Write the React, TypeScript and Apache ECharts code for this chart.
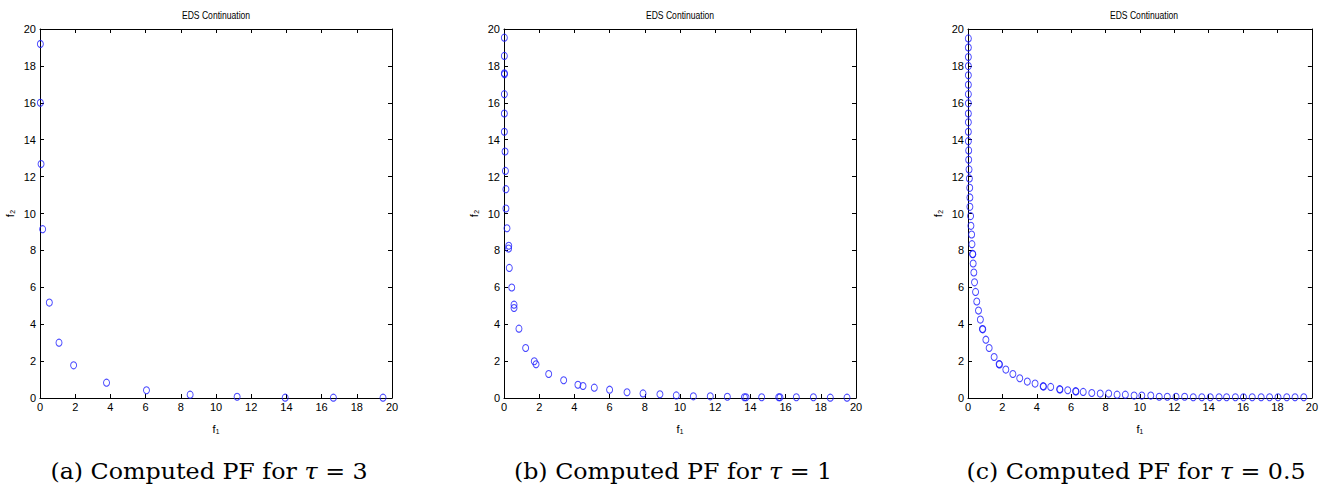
import React, { useEffect, useRef } from "react";
import * as echarts from "echarts";

// ---- data (f1, f2) ----
const tau3X = [0.02, 0.02, 0.06, 0.15, 0.53, 1.08, 1.91, 3.78, 6.05, 8.53, 11.2, 13.93, 16.67, 19.49];
const tau3Y = [19.19, 16.0, 12.68, 9.15, 5.17, 3.0, 1.77, 0.83, 0.42, 0.18, 0.07, 0.02, 0.02, 0.02];

const tau1X = [0.02, 0.02, 0.02, 0.03, 0.02, 0.02, 0.02, 0.06, 0.08, 0.11, 0.11, 0.17, 0.27, 0.26, 0.3, 0.44, 0.57, 0.57, 0.85, 1.23, 1.72, 1.82, 2.54, 3.39, 4.2, 4.49, 5.13, 6.0, 6.99, 7.9, 8.86, 9.79, 10.76, 11.72, 12.69, 13.66, 13.75, 14.64, 15.61, 15.68, 16.61, 17.58, 18.54, 19.49];
const tau1Y = [19.53, 18.54, 17.6, 17.55, 16.47, 15.42, 14.43, 13.36, 12.31, 11.32, 10.27, 9.2, 8.25, 8.1, 7.05, 5.99, 5.06, 4.88, 3.76, 2.71, 1.99, 1.83, 1.3, 0.96, 0.72, 0.65, 0.56, 0.45, 0.31, 0.25, 0.2, 0.14, 0.09, 0.09, 0.07, 0.04, 0.04, 0.04, 0.04, 0.04, 0.04, 0.04, 0.02, 0.02];

const tau05X = [0.02, 0.02, 0.02, 0.02, 0.02, 0.02, 0.02, 0.02, 0.02, 0.02, 0.02, 0.02, 0.04, 0.04, 0.06, 0.08, 0.1, 0.11, 0.11, 0.15, 0.17, 0.21, 0.23, 0.27, 0.28, 0.3, 0.34, 0.38, 0.44, 0.51, 0.61, 0.72, 0.84, 0.86, 1.04, 1.23, 1.52, 1.81, 1.83, 2.2, 2.61, 3.01, 3.45, 3.9, 4.37, 4.39, 4.81, 5.33, 5.35, 5.8, 6.26, 6.28, 6.7, 7.2, 7.69, 8.18, 8.67, 9.15, 9.66, 10.11, 10.63, 11.12, 11.59, 12.1, 12.6, 13.1, 13.6, 14.09, 14.6, 15.04, 15.55, 16.02, 16.53, 17.05, 17.54, 18.03, 18.54, 19.02, 19.53];
const tau05Y = [19.49, 19.0, 18.48, 17.99, 17.49, 16.98, 16.47, 15.97, 15.42, 14.94, 14.43, 13.92, 13.42, 12.91, 12.39, 11.9, 11.39, 10.87, 10.36, 9.86, 9.33, 8.86, 8.34, 7.81, 7.79, 7.29, 6.8, 6.27, 5.75, 5.23, 4.74, 4.25, 3.74, 3.72, 3.16, 2.71, 2.22, 1.84, 1.82, 1.54, 1.3, 1.07, 0.89, 0.78, 0.64, 0.62, 0.6, 0.48, 0.46, 0.42, 0.37, 0.35, 0.33, 0.27, 0.24, 0.24, 0.18, 0.18, 0.13, 0.13, 0.13, 0.07, 0.07, 0.07, 0.07, 0.04, 0.04, 0.04, 0.04, 0.04, 0.04, 0.04, 0.04, 0.04, 0.04, 0.04, 0.04, 0.04, 0.04];

const axisTicks = [0, 2, 4, 6, 8, 10, 12, 14, 16, 18, 20];
const chartTitle = "EDS Continuation";
const captionPrefix = ["(a) Computed PF for ", "(b) Computed PF for ", "(c) Computed PF for "];
const captionTau = ["3", "1", "0.5"];
const xName = "f\u2081";
const yName = "f\u2082";

const panels = [
  { x: tau3X, y: tau3Y },
  { x: tau1X, y: tau1Y },
  { x: tau05X, y: tau05Y },
];

const gridLefts = [40, 504, 968];
const gridTop = 29;
const gridW = 352;
const gridH = 369;
const captionCenters = [209, 673, 1136];

const tickFont = "'Liberation Sans Narrow', 'Liberation Sans', sans-serif";

export default function App() {
  const ref = useRef<HTMLDivElement>(null);

  useEffect(() => {
    if (!ref.current) return;
    const chart = echarts.init(ref.current, undefined, { renderer: "svg" });

    const grids: any[] = [];
    const xAxes: any[] = [];
    const yAxes: any[] = [];
    const series: any[] = [];
    const graphics: any[] = [];

    const mn = axisTicks[0];
    const mx = axisTicks[axisTicks.length - 1];
    const iv = axisTicks[1] - axisTicks[0];

    panels.forEach((p, i) => {
      grids.push({ left: gridLefts[i], top: gridTop, width: gridW, height: gridH, containLabel: false });
      const lineStyle = { color: "#000", width: 1 };
      xAxes.push({
        type: "value", gridIndex: i, position: "bottom", min: mn, max: mx, interval: iv,
        name: xName, nameLocation: "middle", nameGap: 25,
        nameTextStyle: { fontFamily: tickFont, fontSize: 11, color: "#000" },
        axisLine: { show: true, onZero: false, lineStyle },
        axisTick: { show: true, inside: true, length: 4, lineStyle },
        axisLabel: { show: true, margin: 3, fontFamily: tickFont, fontSize: 11, color: "#000" },
        splitLine: { show: false },
      });
      xAxes.push({
        type: "value", gridIndex: i, position: "top", min: mn, max: mx, interval: iv,
        axisLine: { show: true, onZero: false, lineStyle },
        axisTick: { show: true, inside: true, length: 4, lineStyle },
        axisLabel: { show: false },
        splitLine: { show: false },
      });
      yAxes.push({
        type: "value", gridIndex: i, position: "left", min: mn, max: mx, interval: iv,
        name: yName, nameLocation: "middle", nameGap: 25, nameRotate: 90,
        nameTextStyle: { fontFamily: tickFont, fontSize: 11, color: "#000" },
        axisLine: { show: true, onZero: false, lineStyle },
        axisTick: { show: true, inside: true, length: 4, lineStyle },
        axisLabel: { show: true, margin: 4, fontFamily: tickFont, fontSize: 11, color: "#000" },
        splitLine: { show: false },
      });
      yAxes.push({
        type: "value", gridIndex: i, position: "right", min: mn, max: mx, interval: iv,
        axisLine: { show: true, onZero: false, lineStyle },
        axisTick: { show: true, inside: true, length: 4, lineStyle },
        axisLabel: { show: false },
        splitLine: { show: false },
      });
      series.push({
        type: "scatter",
        xAxisIndex: 2 * i,
        yAxisIndex: 2 * i,
        data: p.x.map((v, k) => [v, p.y[k]]),
        symbol: "circle",
        symbolSize: [6, 7],
        clip: false,
        itemStyle: { color: "rgba(0,0,0,0)", borderColor: "#1a1aff", borderWidth: 1 },
        emphasis: { disabled: true },
      });
      graphics.push({
        type: "text",
        x: gridLefts[i] + gridW / 2,
        y: 15,
        scaleX: 0.78,
        style: {
          text: chartTitle,
          fontFamily: tickFont,
          fontSize: 11,
          fill: "#000",
          align: "center",
          verticalAlign: "middle",
        },
      });
      graphics.push({
        type: "text",
        x: captionCenters[i],
        y: 471,
        scaleX: 1.08,
        style: {
          text: "{n|" + captionPrefix[i] + "}{t|\u03c4}{n| = " + captionTau[i] + "}",
          align: "center",
          verticalAlign: "middle",
          rich: {
            n: { fontFamily: "'DejaVu Serif', serif", fontSize: 22, fill: "#000" },
            t: { fontFamily: "'DejaVu Serif', serif", fontSize: 22, fontStyle: "italic", fill: "#000" },
          },
        },
      });
    });

    chart.setOption({
      animation: false,
      backgroundColor: "#fff",
      grid: grids,
      xAxis: xAxes,
      yAxis: yAxes,
      series,
      graphic: graphics,
    });

    return () => chart.dispose();
  }, []);

  return (
    <div
      ref={ref}
      style={{ position: "absolute", left: 0, top: 0, width: 1321, height: 485 }}
    />
  );
}
